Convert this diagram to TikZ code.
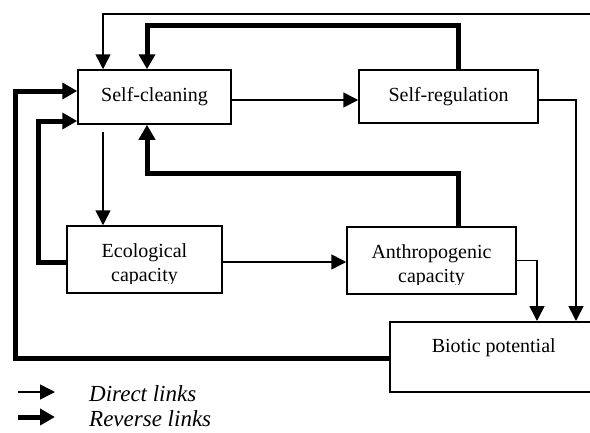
\documentclass[tikz,border=0pt]{standalone}
\usepackage{fontspec}
\setmainfont{Liberation Serif}
\usepackage{trimclip}
\usetikzlibrary{arrows.meta}
\newcommand{\cutcap}{\clipbox{0pt 2pt 0pt 0pt}{capacity}}
\begin{document}
\begin{tikzpicture}[x=1pt,y=-1pt,
  box/.style={draw, line width=1.5pt, inner sep=0pt, align=center,
    font=\fontsize{20}{24}\selectfont},
  direct/.style={line width=1.6pt, -{Triangle[length=15pt,width=15pt]}},
  rev/.style={line width=5pt, -{Triangle[length=15pt,width=16pt]}},
  legend/.style={anchor=west, inner sep=0pt, font=\fontsize{23}{26}\selectfont\itshape}]
\useasboundingbox (0,0) rectangle (590,432);
% boxes
\node[box, minimum width=153pt, minimum height=54pt] (sc) at (154.5,97) {Self-cleaning};
\node[box, minimum width=179pt, minimum height=53pt] (sr) at (448.5,96.5) {Self-regulation};
\node[box, minimum width=155pt, minimum height=67pt] (eco) at (144.5,259.5) {\rule{0pt}{22pt}Ecological\\\cutcap};
\node[box, minimum width=169pt, minimum height=67pt] (ac) at (431.5,260.5) {\rule{0pt}{22pt}Anthropogenic\\\cutcap};
\node[box, anchor=north west, minimum width=208pt, text height=31pt, text depth=39pt] (bp) at (389,321) {Biotic potential};
% helper coordinates
\coordinate (topthin) at (103,14);
\coordinate (offr) at (610,14);
\coordinate (topthick) at (458,25);
\coordinate (midthick) at (458,173);
\coordinate (xA) at (147,0);
\coordinate (xL1) at (15,91);
\coordinate (xL2) at (38,121);
\coordinate (xR1) at (576,0);
\coordinate (xR2) at (537,0);
% direct links
\draw[direct] (bp.east) -| (offr) -- (topthin) -- (topthin |- sc.north);
\draw[direct] ([yshift=-3pt]sc.east) -- ([yshift=-3pt]sc.east -| sr.west);
\draw[direct, shorten <=7pt] (topthin |- sc.south) -- (topthin |- eco.north);
\draw[direct] ([yshift=-2.5pt]eco.east) -- ([yshift=-2.5pt]eco.east -| ac.west);
\draw[direct] ([yshift=-3.5pt]sr.east) -| (xR1 |- bp.north);
\draw[direct] (ac.east) -| (xR2 |- bp.north);
% reverse links
\draw[rev] (topthick |- sr.north) -- (topthick) -| (xA |- sc.north);
\draw[rev] (midthick |- ac.north) -- (midthick) -| (xA |- sc.south);
\draw[rev] ([yshift=-2pt]bp.west) -| (xL1) -- (xL1 -| sc.west);
\draw[rev] ([yshift=-2.5pt]eco.west) -| (xL2) -- (xL2 -| sc.west);
% legend
\coordinate (l1a) at (18,392);
\coordinate (l1b) at (55,392);
\coordinate (l2a) at (18,417);
\coordinate (l2b) at (55,417);
\draw[direct] (l1a) -- (l1b);
\draw[rev] (l2a) -- (l2b);
\node[legend] (ldirect) at (89,394) {Direct links};
\node[legend] (lrev) at (89,419) {Reverse links};
\end{tikzpicture}
\end{document}
